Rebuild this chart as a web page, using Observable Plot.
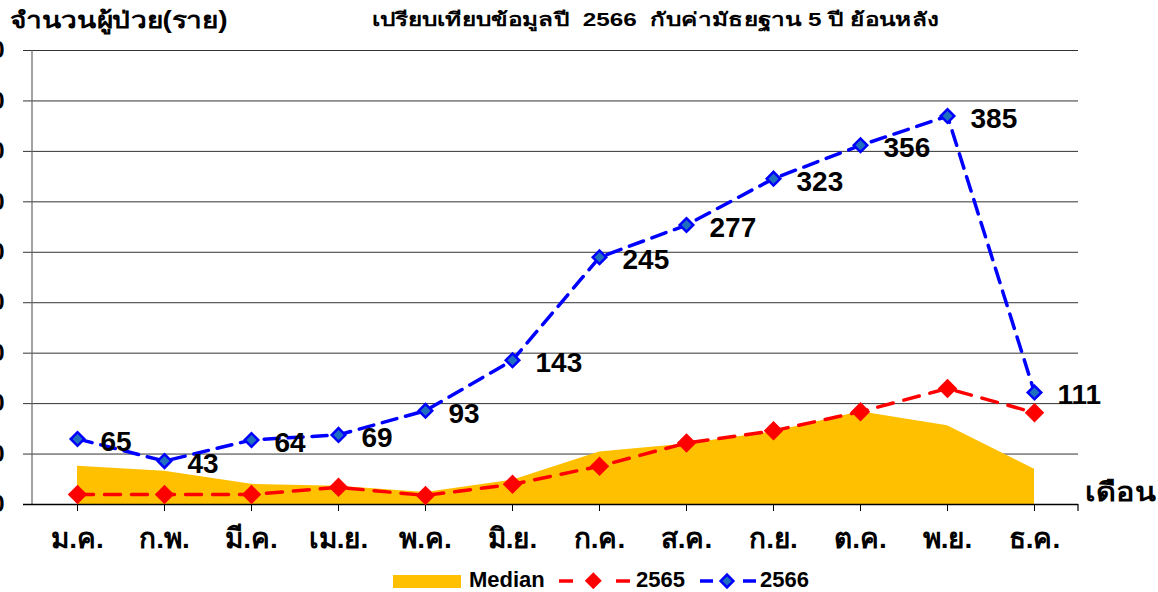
<!DOCTYPE html>
<html>
<head>
<meta charset="utf-8">
<script src="https://cdn.jsdelivr.net/npm/d3@7"></script>
<script src="https://cdn.jsdelivr.net/npm/@observablehq/plot@0.6"></script>
<style>
  html, body { margin: 0; padding: 0; background: #fff; overflow: hidden; }
  #wrap { position: relative; width: 1158px; height: 592px; font-family: "Liberation Sans", Arial, "Noto Sans", sans-serif; font-weight: bold; color: #000; }
  .abs { position: absolute; white-space: nowrap; }
  #chart { position: absolute; left: 0; top: 0; }
</style>
</head>
<body>
<div id="wrap">
  <div id="chart"></div>
  <div class="abs" id="ylab" style="left:10px; top:2px; font-size:23px; transform:scaleX(1.22); transform-origin:left top;">จำนวนผู้ป่วย(ราย)</div>
  <div class="abs" id="title" style="left:372px; top:4px; font-size:19px; transform:scaleX(1.28); transform-origin:left top;">เปรียบเทียบข้อมูลปี&nbsp; 2566&nbsp; กับค่ามัธยฐาน 5 ปี ย้อนหลัง</div>
  <div class="abs" id="xlab" style="left:1085px; top:471px; font-size:26px; transform:scaleX(1.18); transform-origin:left top;">เดือน</div>
  <div id="legend"></div>
</div>
<script>
const months = ["ม.ค.","ก.พ.","มี.ค.","เม.ย.","พ.ค.","มิ.ย.","ก.ค.","ส.ค.","ก.ย.","ต.ค.","พ.ย.","ธ.ค."];
const median = [38,33,20,18,12,24,52,60,72,92,78,35];
const y2565 = [10,10,10,17,9,20,38,61,73,92,115,91];
const y2566 = [65,43,64,69,93,143,245,277,323,356,385,111];
const yTicks = [0,50,100,150,200,250,300,350,400,450];
const seriesNames = ["Median","2565","2566"];

const colMedian = "#FFC000";
const colRed = "#FF0000";
const colBlue = "#0000FF";
const colBlueFill = "#1F6FBF";

const dMedian = months.map((m,i)=>({month:m, v:median[i]}));
const d65 = months.map((m,i)=>({month:m, v:y2565[i]}));
const d66 = months.map((m,i)=>({month:m, v:y2566[i]}));

const axisLines = (index, scales, values, dims) => {
  const g = d3.create("svg:g");
  const x0 = dims.marginLeft, x1 = dims.width - dims.marginRight;
  const yb = dims.height - dims.marginBottom, yt = dims.marginTop;
  g.append("line").attr("x1", x0).attr("x2", x0).attr("y1", yt).attr("y2", yb)
    .attr("stroke", "#666").attr("stroke-width", 1.2);
  g.append("line").attr("x1", x0 - 9).attr("x2", x1).attr("y1", yb + 0.5).attr("y2", yb + 0.5)
    .attr("stroke", "#000").attr("stroke-width", 1.5);
  g.append("line").attr("x1", x1).attr("x2", x1).attr("y1", yb).attr("y2", yb + 7)
    .attr("stroke", "#000").attr("stroke-width", 1.2);
  return g.node();
};

const plot = Plot.plot({
  width: 1158,
  height: 565,
  marginLeft: 32,
  marginRight: 80,
  marginTop: 50,
  marginBottom: 61,
  style: {background: "transparent", overflow: "visible"},
  x: {type: "point", domain: months, padding: 0.5, axis: null},
  y: {domain: [0, 450], axis: null},
  marks: [
    Plot.gridY(yTicks, {stroke: "#333", strokeOpacity: 1, strokeWidth: 1}),
    Plot.axisY(yTicks, {label: null, tickSize: 9, tickPadding: 19, fontSize: 24, fontWeight: "bold", stroke: "#333", fontFamily: "Liberation Sans, Arial, sans-serif"}),
    Plot.areaY(dMedian, {x: "month", y: "v", fill: colMedian, curve: "linear"}),
    axisLines,
    Plot.axisX({label: null, tickSize: 7, tickPadding: 17, fontSize: 28, fontWeight: "bold", stroke: "#000", fontFamily: "Liberation Sans, Arial, sans-serif"}),
    Plot.lineY(d65, {x: "month", y: "v", stroke: colRed, strokeWidth: 3.5, strokeDasharray: "16,11"}),
    Plot.lineY(d66, {x: "month", y: "v", stroke: colBlue, strokeWidth: 3.5, strokeDasharray: "15,9"}),
    Plot.dot(d65, {x: "month", y: "v", symbol: "square", r: 7.2, rotate: 45, fill: colRed, stroke: colRed, strokeWidth: 1}),
    Plot.dot(d66, {x: "month", y: "v", symbol: "square", r: 5.4, rotate: 45, fill: colBlueFill, stroke: colBlue, strokeWidth: 2.5}),
    Plot.text(d66, {x: "month", y: "v", text: d => String(d.v), textAnchor: "start", dx: 23, dy: 3, fontSize: 28, fontWeight: "bold", fill: "#000", fontFamily: "Liberation Sans, Arial, sans-serif"})
  ]
});
document.getElementById("chart").appendChild(plot);

// Legend
const legend = document.getElementById("legend");
legend.innerHTML = `
  <div class="abs" style="left:393px; top:575px; width:68px; height:13px; background:${colMedian};"></div>
  <div class="abs" style="left:469px; top:567px; font-size:22px;">${seriesNames[0]}</div>
  <svg class="abs" style="left:556px; top:568px;" width="76" height="26">
    <line x1="3" x2="17" y1="13" y2="13" stroke="${colRed}" stroke-width="3.5"/>
    <rect x="32" y="6" width="12" height="12" transform="rotate(45 38 12) translate(0 1)" fill="${colRed}"/>
    <line x1="60" x2="74" y1="13" y2="13" stroke="${colRed}" stroke-width="3.5"/>
  </svg>
  <div class="abs" style="left:636px; top:567px; font-size:22px;">${seriesNames[1]}</div>
  <svg class="abs" style="left:696px; top:568px;" width="64" height="26">
    <line x1="4" x2="17" y1="13" y2="13" stroke="${colBlue}" stroke-width="3.5"/>
    <rect x="26.5" y="8.5" width="9" height="9" transform="rotate(45 31 13)" fill="${colBlueFill}" stroke="${colBlue}" stroke-width="2.5"/>
    <line x1="47" x2="60" y1="13" y2="13" stroke="${colBlue}" stroke-width="3.5"/>
  </svg>
  <div class="abs" style="left:760px; top:567px; font-size:22px;">${seriesNames[2]}</div>
`;
</script>
</body>
</html>
